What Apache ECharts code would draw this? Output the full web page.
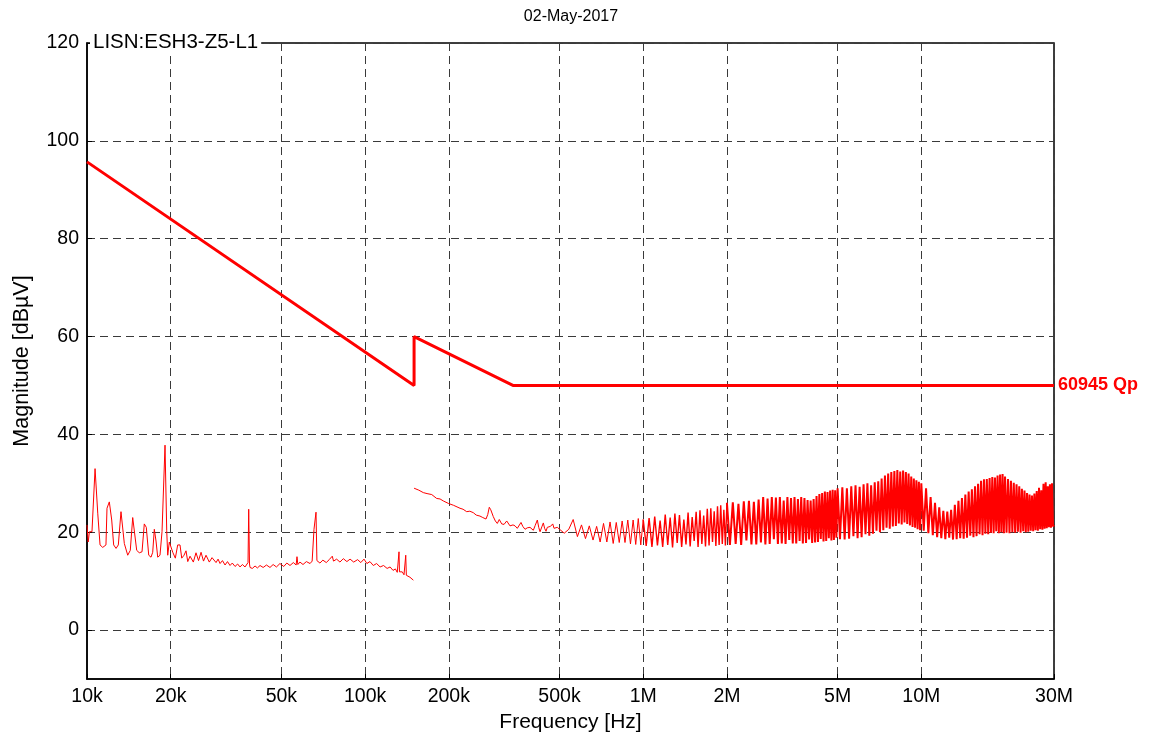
<!DOCTYPE html>
<html>
<head>
<meta charset="utf-8">
<title>LISN ESH3-Z5-L1 conducted emission</title>
<script src="https://cdn.jsdelivr.net/npm/echarts@6/dist/echarts.min.js"></script>
<style>
html, body { margin: 0; padding: 0; background: #fff; }
#chart { width: 1156px; height: 740px; }
</style>
</head>
<body>
<div id="chart"></div>
<script>
// Frequency axis ticks (Hz) and their labels
const freqTicks = [1e4, 2e4, 5e4, 1e5, 2e5, 5e5, 1e6, 2e6, 5e6, 1e7, 3e7];
const freqTickLabels = ['10k', '20k', '50k', '100k', '200k', '500k', '1M', '2M', '5M', '10M', '30M'];
// Magnitude axis ticks (dBµV)
const magTicks = [0, 20, 40, 60, 80, 100, 120];

// Quasi-peak limit: [kHz, dBµV]
const limitLine = [[10, 95.7], [150, 50], [150, 60], [340, 50], [30000, 50]];

// Measured trace, 10 kHz - 150 kHz: [kHz, dBµV]
const traceLow = [
  [10.0, 21.5], [10.1, 18.0], [10.2, 20.1], [10.42, 20.1], [10.69, 33.0], [10.93, 23.9], [11.14, 17.4],
  [11.39, 16.9], [11.54, 16.6], [11.70, 17.4], [11.80, 24.9], [12.03, 26.2], [12.27, 22.5], [12.47, 17.4],
  [12.72, 16.7], [12.96, 17.4], [13.25, 24.2], [13.44, 24.3], [13.62, 17.7], [14.01, 15.3], [14.31, 16.3],
  [14.60, 23.0], [14.84, 23.0], [15.09, 16.3], [15.42, 15.8], [15.77, 16.0], [16.07, 21.7], [16.34, 21.0],
  [16.67, 15.3], [16.99, 14.9], [17.23, 15.9], [17.46, 20.6], [17.71, 18.2], [17.96, 14.9], [18.30, 15.3],
  [18.61, 20.1], [18.84, 20.3], [19.08, 37.8], [19.35, 20.3], [19.51, 15.3], [19.77, 18.0], [20.05, 18.3],
  [20.34, 15.9], [20.78, 14.7], [21.19, 17.4], [21.60, 17.4], [21.91, 14.7], [22.33, 15.3], [22.70, 16.2],
  [23.03, 14.0], [23.47, 15.1], [24.12, 13.9], [24.66, 15.8], [25.18, 14.2], [25.71, 15.9], [26.24, 14.1],
  [26.79, 15.3], [27.53, 13.9], [28.16, 14.8], [29.11, 13.8], [29.6, 14.5], [30.09, 13.6], [30.7, 14.2],
  [31.36, 13.3], [32.0, 14.0], [32.68, 13.2], [33.3, 13.7], [34.07, 13.0], [34.8, 13.5], [35.5, 12.9],
  [36.2, 13.4], [37.0, 12.9], [37.6, 13.3], [37.93, 13.8], [38.15, 24.7], [38.4, 13.5], [38.57, 12.8],
  [39.3, 12.6], [40.2, 13.1], [41.0, 12.7], [41.9, 13.2], [43.0, 12.8], [44.2, 13.3], [45.5, 12.8],
  [46.7, 13.4], [48.0, 12.9], [49.4, 13.6], [51.0, 13.0], [52.3, 13.7], [53.7, 13.2], [55.2, 13.8],
  [56.5, 13.3], [56.9, 15.0], [57.3, 13.4], [58.3, 13.9], [59.8, 13.4], [61.5, 14.0], [63.4, 13.6],
  [64.5, 14.1], [65.3, 13.8], [65.5, 20.6], [66.06, 21.0], [66.6, 24.1], [67.1, 14.2], [68.8, 13.7],
  [70.5, 14.3], [72.5, 13.8], [74.3, 14.4], [75.5, 14.0], [76.2, 15.1], [77.0, 14.1], [79.0, 14.5],
  [81.2, 13.9], [83.5, 14.6], [86.0, 14.0], [88.3, 14.5], [91.0, 13.9], [94.0, 14.4], [96.5, 13.8],
  [99.1, 14.5], [101.5, 13.6], [104.1, 14.0], [107.0, 13.2], [110.0, 13.6], [113.2, 12.9], [116.5, 13.2],
  [120.0, 12.6], [123.0, 12.9], [126.0, 12.2], [128.5, 12.5], [130.5, 11.8], [132.0, 12.2], [132.4, 16.0],
  [132.9, 11.9], [133.8, 11.6], [136.0, 11.9], [138.0, 11.3], [140.0, 15.3], [140.7, 11.2], [142.5, 11.0],
  [145.0, 10.8], [147.0, 10.5], [149.1, 10.2]
];

// Measured trace, 150 kHz - 500 kHz: [kHz, dBµV]
const traceMid = [
  [150, 29.0], [156, 28.6], [161.9, 28.1], [167, 27.9], [173.6, 27.7], [180.9, 26.9], [186, 26.8],
  [191.0, 26.4], [199.1, 25.9], [208, 25.5], [219.4, 24.9], [225, 24.7], [231.9, 24.2], [238, 24.3],
  [244.9, 24.0], [251, 23.5], [258.9, 23.3], [265, 23.0], [272.1, 22.7], [276, 23.6], [279.6, 25.1],
  [283, 24.6], [289.0, 23.2], [294, 22.3], [298.8, 21.8], [303.7, 22.6], [309.9, 21.7], [316, 21.6],
  [323.0, 22.3], [331.9, 21.3], [336, 21.7], [340.3, 21.5], [346, 21.3], [352.6, 20.8], [358, 21.2],
  [363.6, 22.0], [369, 21.2], [375.8, 20.6], [383, 20.9], [391.7, 21.0], [397, 20.6], [402.6, 20.4],
  [409, 21.4], [416.2, 22.5], [421, 21.0], [425.6, 20.1], [432, 21.1], [437.4, 21.9], [442, 20.8],
  [447.3, 20.2], [452, 21.0], [455.9, 20.6], [464, 21.2], [472.8, 21.7], [478, 20.8], [485.9, 20.4],
  [491, 21.0], [498.1, 21.3]
];

// Measured trace above 500 kHz, stored per sweep segment: first point (kHz), step (kHz), dBµV values
const sweep1Start = 520, sweep1Step = 20;
const sweep1 = [19.8, 20.6, 22.6, 19.1, 21.5, 18.7, 21.3, 18.4, 21.2, 18.0, 21.8, 18.0, 22.1, 17.7, 22.0,
  17.9, 22.3, 17.9, 22.5, 17.6, 22.5, 17.5, 22.8, 17.4, 22.6];

const sweep2Start = 1025, sweep2Step = 25;
const sweep2 = [17.2, 22.9, 17.0, 23.2, 17.3, 22.4, 17.0, 23.6, 17.4, 23.0, 16.9, 23.8, 17.8, 23.5, 17.0,
  22.6, 17.5, 24.0, 17.1, 23.1, 18.2, 24.2, 17.0, 24.5, 17.6, 23.4, 17.1, 24.8, 17.3, 24.9, 18.0, 24.3,
  17.2, 25.3, 17.4, 25.5, 17.6, 24.6, 17.3, 26.0];

const sweep3Start = 2050, sweep3Step = 50;
const sweep3 = [17.4, 26.1, 17.6, 25.8, 17.4, 26.3, 18.3, 26.4, 17.5, 26.2, 17.5, 26.7, 17.9, 27.2, 17.5,
  26.9, 17.6, 27.2, 18.6, 27.1, 17.6, 27.2, 17.7, 26.5, 17.6, 27.2, 18.4, 27.0, 17.7, 27.2, 17.7, 26.8,
  18.2, 27.2, 17.7, 27.0, 17.8, 26.6, 18.5, 26.5, 17.8, 26.8, 17.9, 27.4, 18.0, 27.8, 18.6, 28.0, 18.1,
  28.3, 18.2, 28.2, 18.8, 28.5, 18.3, 28.7, 18.4, 28.6, 18.9, 29.0];

const sweep4Start = 5100, sweep4Step = 100;
const sweep4 = [18.6, 29.2, 18.5, 29.0, 18.7, 29.4, 19.2, 29.6, 18.8, 29.3, 19.0, 29.8, 19.6, 30.0, 19.3,
  29.6, 19.7, 30.2, 20.3, 30.4, 20.0, 31.0, 20.4, 31.6, 20.9, 32.0, 20.7, 32.3, 21.2, 32.5, 21.3, 32.7,
  21.8, 32.4, 21.6, 32.6, 22.0, 32.3, 21.7, 32.0, 21.4, 31.4, 21.1, 31.0, 20.9, 30.6, 20.6, 30.3, 20.4,
  30.0];

const sweep5Start = 10200, sweep5Step = 200;
const sweep5 = [20.3, 29.0, 19.8, 27.2, 19.4, 26.0, 19.0, 25.1, 18.8, 24.4, 18.6, 24.2, 18.9, 24.6, 18.5,
  25.6, 18.6, 26.4, 18.8, 27.0, 18.7, 27.7, 18.9, 28.3, 19.3, 28.8, 19.0, 29.4, 19.2, 29.9, 19.6, 30.5,
  19.4, 30.8, 19.7, 30.9, 19.6, 31.1, 19.9, 31.3, 19.8, 31.2, 20.2, 31.6, 19.8, 31.8, 20.0, 31.9, 19.8,
  31.4];

const sweep6Start = 20250, sweep6Step = 250;
const sweep6 = [19.9, 30.9, 19.8, 30.5, 20.0, 30.1, 19.9, 29.8, 20.1, 29.4, 19.9, 28.9, 20.2, 28.5, 20.0,
  28.0, 20.1, 27.7, 20.3, 27.5, 20.2, 27.9, 20.4, 28.4, 20.3, 29.1, 20.6, 28.6, 20.5, 29.9, 20.7, 30.2,
  20.8, 29.4, 21.0, 29.8, 20.9, 30.0, 21.2, 21.5];

const FONT = '"Liberation Sans", Arial, Helvetica, sans-serif';
const RED = '#ff0000';

// kHz -> Hz for the log frequency axis
const toHz = pts => pts.map(p => [p[0] * 1000, p[1]]);
const sweepToHz = (start, step, vals) => vals.map((v, i) => [(start + i * step) * 1000, v]);

// The trace above 150 kHz is drawn in three pieces; each piece starts at the
// last point of the previous one so the line stays continuous.
const partA = toHz(traceMid).concat(sweepToHz(sweep1Start, sweep1Step, sweep1));
const partB = partA.slice(-1).concat(sweepToHz(sweep2Start, sweep2Step, sweep2));
const partC = partB.slice(-1)
  .concat(sweepToHz(sweep3Start, sweep3Step, sweep3))
  .concat(sweepToHz(sweep4Start, sweep4Step, sweep4))
  .concat(sweepToHz(sweep5Start, sweep5Step, sweep5))
  .concat(sweepToHz(sweep6Start, sweep6Step, sweep6));

const freqLabel = v => {
  const i = freqTicks.findIndex(t => Math.abs(t - v) / t < 1e-6);
  return i >= 0 ? freqTickLabels[i] : '';
};

const gridDash = { type: [8, 5], color: '#3a3a3a', width: 1 };

const traceSeries = (name, data, width) => ({
  name, type: 'line', data,
  showSymbol: false, symbol: 'none', sampling: null,
  lineStyle: { color: RED, width }, z: 3
});

const chart = echarts.init(document.getElementById('chart'), null, { renderer: 'canvas' });
chart.setOption({
  animation: false,
  backgroundColor: '#ffffff',
  textStyle: { fontFamily: FONT },
  title: [
    {
      text: '02-May-2017',
      left: 566, top: 4, textAlign: 'center',
      textStyle: { fontFamily: FONT, fontSize: 16, fontWeight: 'normal', color: '#000' }
    },
    {
      text: 'LISN:ESH3-Z5-L1',
      left: 90, top: 32, padding: [0, 3],
      backgroundColor: '#ffffff',
      textStyle: { fontFamily: FONT, fontSize: 20.5, fontWeight: 'normal', color: '#000' }
    }
  ],
  grid: {
    left: 87, right: 102, top: 43, bottom: 61,
    show: true, borderColor: '#000', borderWidth: 1.5,
    outerBoundsMode: 'none'
  },
  xAxis: {
    type: 'log', logBase: 10, min: 1e4, max: 3e7,
    name: 'Frequency [Hz]', nameLocation: 'middle', nameGap: 32,
    nameTextStyle: { fontFamily: FONT, fontSize: 21, color: '#000' },
    axisLine: { show: true, onZero: false, lineStyle: { color: '#000', width: 1.5 } },
    axisTick: { show: true, inside: true, length: 5, customValues: freqTicks, lineStyle: { color: '#000' } },
    axisLabel: { customValues: freqTicks, formatter: freqLabel, margin: 8, fontFamily: FONT, fontSize: 19.5, color: '#000' },
    splitLine: { show: true, lineStyle: gridDash },
    minorTick: { show: false }, minorSplitLine: { show: false }
  },
  yAxis: {
    type: 'value', min: -10, max: 120,
    name: 'Magnitude [dB\u00b5V]', nameLocation: 'middle', nameGap: 54,
    nameTextStyle: { fontFamily: FONT, fontSize: 21.5, color: '#000' },
    axisLine: { show: true, onZero: false, lineStyle: { color: '#000', width: 1.5 } },
    axisTick: { show: true, inside: true, length: 5, customValues: magTicks, lineStyle: { color: '#000' } },
    axisLabel: { customValues: magTicks, margin: 8, fontFamily: FONT, fontSize: 19.5, color: '#000' },
    splitLine: { show: true, lineStyle: gridDash }
  },
  series: [
    traceSeries('trace 10k-150k', toHz(traceLow), 1),
    traceSeries('trace 150k-1M', partA, 1),
    traceSeries('trace 1M-2M', partB, 1.4),
    traceSeries('trace 2M-30M', partC, 2),
    {
      name: '60945 Qp', type: 'line', data: toHz(limitLine),
      showSymbol: false, symbol: 'none',
      lineStyle: { color: RED, width: 3 }, z: 4,
      endLabel: {
        show: true, formatter: '60945 Qp', distance: 4,
        color: RED, fontFamily: FONT, fontWeight: 'bold', fontSize: 18
      }
    }
  ]
});
</script>
</body>
</html>
